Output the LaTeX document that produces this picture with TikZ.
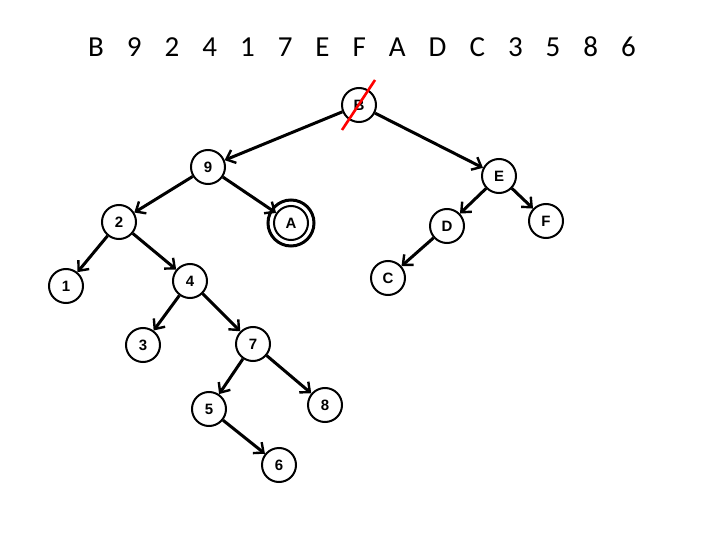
\documentclass[tikz,border=0pt]{standalone}
\usepackage{fontspec}
\setmainfont{Liberation Sans}
\newfontfamily\hdr{Carlito}
\usetikzlibrary{arrows.meta}
\begin{document}
\begin{tikzpicture}[x=1pt,y=-1pt,
  nd/.style={circle,draw,line width=2pt,minimum size=34pt,inner sep=0pt,font=\bfseries\fontsize{15}{15}\selectfont},
  ar/.style={line width=3pt,-{Straight Barb[length=8pt,width=14pt,line width=2.4pt]}}]
\useasboundingbox (0,0) rectangle (720,540);
\node[font=\hdr\fontsize{29}{29}\selectfont] (h) at (362,47) {B\hspace{23pt}9\hspace{23pt}2\hspace{23pt}4\hspace{23pt}1\hspace{23pt}7\hspace{23pt}E\hspace{23pt}F\hspace{23pt}A\hspace{23pt}D\hspace{23pt}C\hspace{23pt}3\hspace{23pt}5\hspace{23pt}8\hspace{23pt}6};
\node[nd] (B) at (359,105) {B};
\node[nd] (n9) at (208,167) {9};
\node[nd] (E) at (499,176) {E};
\node[nd] (n2) at (119,222) {2};
\node[nd,minimum size=46pt,line width=3pt] (Aout) at (291,223) {};
\node[nd] (A) at (291,223) {A};
\node[nd] (D) at (447,226) {D};
\node[nd] (F) at (546,221) {F};
\node[nd] (n1) at (66,286) {1};
\node[nd] (n4) at (190,281) {4};
\node[nd] (C) at (388,278) {C};
\node[nd] (n3) at (143,345) {3};
\node[nd] (n7) at (253,344) {7};
\node[nd] (n5) at (209,409) {5};
\node[nd] (n8) at (325,405) {8};
\node[nd] (n6) at (279,465) {6};
\draw[ar] (B) -- (n9);
\draw[ar] (B) -- (E);
\draw[ar] (n9) -- (n2);
\draw[ar] (n9) -- (A);
\draw[ar] (E) -- (D);
\draw[ar] (E) -- (F);
\draw[ar] (n2) -- (n1);
\draw[ar] (n2) -- (n4);
\draw[ar] (D) -- (C);
\draw[ar] (n4) -- (n3);
\draw[ar] (n4) -- (n7);
\draw[ar] (n7) -- (n5);
\draw[ar] (n7) -- (n8);
\draw[ar] (n5) -- (n6);
\coordinate (r1) at (375,80);
\coordinate (r2) at (342,130);
\draw[red,line width=2.6pt] (r1) -- (r2);
\end{tikzpicture}
\end{document}
